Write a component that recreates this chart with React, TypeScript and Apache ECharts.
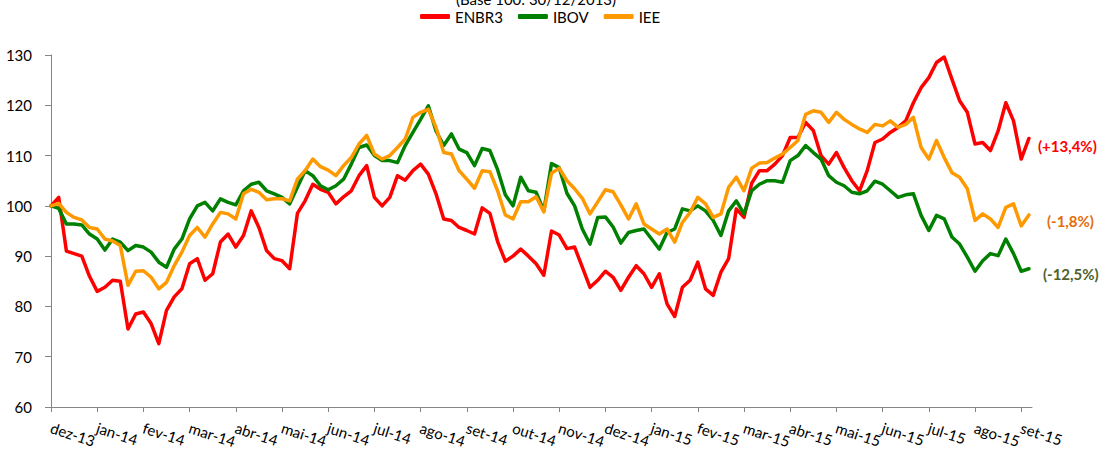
import React, { useEffect, useRef } from 'react';
import * as echarts from 'echarts';

const subtitle = '(Base 100: 30/12/2013)';
const seriesNames = ['ENBR3', 'IBOV', 'IEE'];
const endLabels = ['(+13,4%)', '(-12,5%)', '(-1,8%)'];
const monthLabels = [
  'dez-13', 'jan-14', 'fev-14', 'mar-14', 'abr-14', 'mai-14', 'jun-14', 'jul-14', 'ago-14', 'set-14', 'out-14',
  'nov-14', 'dez-14', 'jan-15', 'fev-15', 'mar-15', 'abr-15', 'mai-15', 'jun-15', 'jul-15', 'ago-15', 'set-15',
];
const pointsPerMonth = 6;

const enbr3 = [
  100, 101.7, 91, 90.5, 90, 86, 83, 83.8, 85.2, 85, 75.5, 78.5, 78.9, 76.6, 72.6, 79.2, 81.9, 83.5, 88.5, 89.5,
  85.2, 86.5, 92.8, 94.4, 91.8, 94.1, 99, 95.7, 91.1, 89.5, 89.1, 87.5, 98.5, 101, 104.3, 103.3, 102.7, 100.4, 101.8, 103,
  106, 108, 101.7, 100, 101.7, 106, 105.1, 107, 108.3, 106.3, 102.4, 97.4, 97.1, 95.7, 95.1, 94.4, 99.6, 98.5, 92.9, 89,
  90, 91.4, 90, 88.5, 86.2, 95, 94.2, 91.5, 91.8, 87.8, 83.8, 85.2, 87, 85.8, 83.2, 85.8, 88.1, 86.5, 83.8, 86.5,
  80.5, 78, 83.8, 85.2, 88.8, 83.5, 82.2, 86.8, 89.5, 99.4, 97.7, 104.5, 107, 107, 108.3, 110, 113.6, 113.6, 116.6, 115,
  110, 108.3, 110.6, 107.6, 105, 103, 107, 112.6, 113.3, 114.6, 115.6, 116.9, 120.5, 123.5, 125.5, 128.5, 129.6, 125.2, 120.9, 118.6,
  112.3, 112.6, 111, 114.9, 120.5, 116.9, 109.3, 113.4,
];

const ibov = [
  100, 99.5, 96.4, 96.4, 96.2, 94.4, 93.4, 91.2, 93.4, 92.8, 91.1, 92.1, 91.8, 90.8, 88.8, 87.8, 91.4, 93.4, 97.4, 100,
  100.7, 99, 101.4, 100.7, 100.2, 103, 104.3, 104.7, 103, 102.4, 101.7, 100.4, 103.7, 107, 106, 104, 103.2, 104, 105.3, 108.3,
  111.6, 112.1, 110, 109, 109, 108.6, 112, 114.6, 117.2, 119.9, 114.9, 112, 114.3, 111.3, 110.6, 108, 111.4, 111, 107.2, 102.2,
  100, 105.7, 103, 102.7, 99, 108.4, 107.6, 102.5, 100, 95.4, 92.4, 97.7, 97.8, 95.8, 92.6, 94.7, 95.1, 95.4, 93.4, 91.4,
  94.7, 95.4, 99.4, 99, 100, 99, 97.1, 94.1, 99, 101, 98.4, 103, 104.3, 105, 105, 104.7, 109, 110, 112, 110.6,
  109.3, 106, 104.7, 104, 102.7, 102.4, 103, 104.9, 104.3, 103, 101.7, 102.2, 102.4, 98.1, 95.1, 98.1, 97.4, 93.8, 92.4, 89.8,
  87, 89.1, 90.5, 90.1, 93.4, 90.5, 87, 87.5,
];

const iee = [
  100, 100.5, 98.7, 97.7, 97.2, 95.7, 95.4, 93.4, 93, 92.1, 84.2, 87, 87.1, 85.8, 83.5, 84.8, 88.1, 90.8, 94.1, 95.7,
  93.8, 96.4, 98.7, 98.4, 97.4, 102.4, 103.3, 102.7, 101.2, 101.4, 101.4, 101, 105.3, 107, 109.3, 107.8, 107.1, 106, 108, 109.6,
  112.3, 114, 110.3, 109.3, 110, 111.6, 113.3, 117.6, 118.6, 119.2, 115.6, 110.6, 110.3, 107, 105.3, 103.5, 107, 106.8, 103, 98.2,
  97.4, 100.8, 100.8, 101.8, 98.8, 106.5, 107.5, 105, 103.4, 101.5, 98.4, 100.8, 103.2, 102.8, 100.2, 97.4, 100.4, 96.4, 95.4, 94.4,
  95.4, 92.8, 96.7, 98.7, 101.7, 100.4, 97.7, 98.4, 103.7, 105.7, 103, 107.5, 108.5, 108.6, 109.5, 110.3, 111.6, 113, 118.2, 118.9,
  118.6, 116.6, 118.6, 117.2, 116.2, 115.3, 114.6, 116.2, 115.9, 116.9, 115.6, 116.2, 117.6, 111.6, 109.3, 113, 109.6, 106.6, 105.7, 103.4,
  97.1, 98.4, 97.4, 95.7, 99.7, 100.4, 96, 98.2,
];

const seriesValues = [enbr3, ibov, iee];
const lineColors = ['#FF0000', '#008000', '#FF9900'];
const labelColors = ['#FF0000', '#4F6228', '#E46C0A'];
const labelOffsets = [[9, 8], [14, 5], [18, 6]];

const FONT = 'Lato, "Open Sans", sans-serif';

export default function App() {
  const ref = useRef<HTMLDivElement>(null);
  useEffect(() => {
    if (!ref.current) return;
    const chart = echarts.init(ref.current, undefined, { renderer: 'svg' });
    const tickValues = monthLabels.map((_, k) => k * pointsPerMonth);
    const xMax = enbr3.length - 1 + 0.4;
    const lastTick = tickValues[tickValues.length - 1];
    // empty guard labels at both ends so that the axis' min/max overlap check drops them, not a month label
    const labelValues = [0, 0.001, ...tickValues.slice(1), xMax];
    const axisColor = '#868686';
    chart.setOption({
      animation: false,
      textStyle: { fontFamily: FONT },
      grid: { left: 51, right: 69, top: 55, bottom: 43, containLabel: false },
      graphic: [
        {
          type: 'text',
          x: 536,
          y: 6,
          style: {
            text: subtitle,
            fill: '#000',
            font: `15px ${FONT}`,
            align: 'center',
            verticalAlign: 'bottom',
          },
        },
      ],
      legend: {
        data: seriesNames,
        left: 415,
        top: 4,
        icon: 'roundRect',
        itemWidth: 30,
        itemHeight: 5,
        itemGap: 15,
        textStyle: { fontSize: 15, color: '#000', fontFamily: FONT },
      },
      xAxis: {
        type: 'value',
        min: 0,
        max: xMax,
        axisLine: { show: true, lineStyle: { color: axisColor, width: 1 } },
        axisTick: { show: true, length: 5, lineStyle: { color: axisColor }, customValues: tickValues },
        axisLabel: {
          customValues: labelValues,
          formatter: (v: number) => {
            if (v < 0.0005 || v > lastTick + 0.5) return '';
            return monthLabels[Math.round(v / pointsPerMonth)] ?? '';
          },
          rotate: -18,
          margin: 20,
          fontSize: 15,
          color: '#000',
          fontFamily: FONT,
        },
        splitLine: { show: false },
      },
      yAxis: {
        type: 'value',
        min: 60,
        max: 130,
        interval: 10,
        axisLine: { show: true, lineStyle: { color: axisColor, width: 1 } },
        axisTick: { show: true, length: 6, lineStyle: { color: axisColor } },
        axisLabel: { margin: 19, fontSize: 15, color: '#000', fontFamily: FONT },
        splitLine: { show: false },
      },
      series: seriesNames.map((name, s) => ({
        name,
        type: 'line',
        data: seriesValues[s].map((v, i) => [i, v]),
        showSymbol: false,
        symbol: 'none',
        color: lineColors[s],
        lineStyle: { color: lineColors[s], width: 3.5, cap: 'round', join: 'round' },
        endLabel: {
          show: true,
          formatter: () => endLabels[s],
          color: labelColors[s],
          fontWeight: 'bold',
          fontSize: 15,
          fontFamily: FONT,
          distance: 0,
          offset: labelOffsets[s],
        },
      })),
    });
    return () => chart.dispose();
  }, []);
  return (
    <div
      ref={ref}
      style={{ position: 'absolute', left: 0, top: 0, width: 1101, height: 450, background: '#fff' }}
    />
  );
}
